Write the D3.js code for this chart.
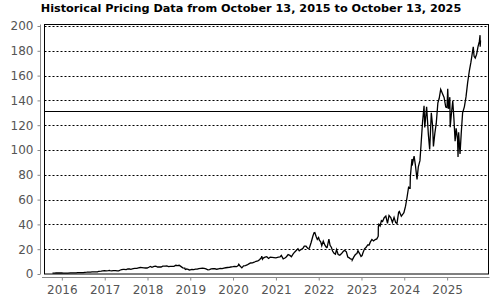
<!DOCTYPE html>
<html>
<head>
<meta charset="utf-8">
<script src="https://cdn.jsdelivr.net/npm/d3@7"></script>
<style>
  body { margin: 0; background: #fff; }
  svg { display: block; }
</style>
</head>
<body>
<svg id="chart"></svg>
<script>
// title and axis ticks
const title = "Historical Pricing Data from October 13, 2015 to October 13, 2025";
const yTicks = [0, 20, 40, 60, 80, 100, 120, 140, 160, 180, 200];
const refLevel = 131.3;

// closing prices (split adjusted)
const dates = [
  "2015-10-13","2015-10-30","2015-11-13","2015-12-01","2015-12-15","2015-12-31",
  "2016-01-15","2016-02-01","2016-02-12","2016-02-22","2016-03-15","2016-04-01","2016-04-15","2016-05-02","2016-05-13","2016-06-01","2016-06-15","2016-07-01","2016-07-15","2016-08-01","2016-08-12","2016-09-01","2016-09-15","2016-10-03","2016-10-17","2016-11-01","2016-11-11","2016-12-01","2016-12-15","2016-12-30",
  "2017-01-13","2017-02-01","2017-02-10","2017-02-15","2017-03-01","2017-03-15","2017-04-03","2017-04-18","2017-05-01","2017-05-10","2017-05-25","2017-06-09","2017-06-15","2017-07-03","2017-07-17","2017-08-01","2017-08-11","2017-09-01","2017-09-15","2017-10-02","2017-10-16","2017-11-01","2017-11-15","2017-12-01","2017-12-15","2017-12-29",
  "2018-01-16","2018-01-26","2018-02-08","2018-02-26","2018-03-13","2018-03-28","2018-04-13","2018-04-27","2018-05-11","2018-05-31","2018-06-15","2018-06-29","2018-07-16","2018-07-31","2018-08-15","2018-08-31","2018-09-14","2018-09-28","2018-10-12","2018-10-29","2018-11-15","2018-11-16","2018-11-23","2018-11-30","2018-12-14","2018-12-24","2018-12-31",
  "2019-01-15","2019-01-31","2019-02-15","2019-03-01","2019-03-15","2019-04-01","2019-04-15","2019-04-30","2019-05-15","2019-05-31","2019-06-14","2019-06-28","2019-07-15","2019-07-31","2019-08-15","2019-08-30","2019-09-13","2019-09-30","2019-10-15","2019-10-31","2019-11-15","2019-11-29","2019-12-13","2019-12-31",
  "2020-01-15","2020-01-31","2020-02-14","2020-02-19","2020-02-28","2020-03-16","2020-03-31","2020-04-15","2020-04-30","2020-05-15","2020-05-29","2020-06-15","2020-06-30","2020-07-15","2020-07-31","2020-08-14","2020-08-31","2020-09-02","2020-09-08","2020-09-15","2020-09-30","2020-10-15","2020-10-30","2020-11-13","2020-11-30","2020-12-15","2020-12-31",
  "2021-01-08","2021-01-22","2021-02-05","2021-02-16","2021-03-04","2021-03-19","2021-04-01","2021-04-15","2021-04-30","2021-05-13","2021-05-28","2021-06-11","2021-06-25","2021-07-08","2021-07-19","2021-07-30","2021-08-13","2021-08-20","2021-08-31","2021-09-15","2021-09-30","2021-10-13","2021-10-29","2021-11-12","2021-11-22","2021-11-29","2021-12-10","2021-12-20","2021-12-31",
  "2022-01-07","2022-01-18","2022-01-27","2022-02-09","2022-02-23","2022-03-08","2022-03-14","2022-03-29","2022-04-08","2022-04-20","2022-04-29","2022-05-12","2022-05-24","2022-06-02","2022-06-16","2022-06-30","2022-07-15","2022-08-01","2022-08-12","2022-08-25","2022-09-06","2022-09-16","2022-09-30","2022-10-13","2022-10-14","2022-10-28","2022-11-10","2022-11-23","2022-12-02","2022-12-16","2022-12-28",
  "2023-01-06","2023-01-13","2023-01-27","2023-02-10","2023-02-23","2023-03-07","2023-03-17","2023-03-31","2023-04-14","2023-04-28","2023-05-12","2023-05-24","2023-05-25","2023-05-30","2023-06-09","2023-06-20","2023-06-30","2023-07-14","2023-07-28","2023-08-11","2023-08-24","2023-09-08","2023-09-22","2023-10-06","2023-10-20","2023-10-31","2023-11-14","2023-11-20","2023-12-07","2023-12-20","2023-12-29",
  "2024-01-12","2024-01-24","2024-02-07","2024-02-20","2024-02-22","2024-03-07","2024-03-08","2024-03-25","2024-04-05","2024-04-19","2024-04-30","2024-05-14","2024-05-23","2024-06-05","2024-06-18","2024-06-24","2024-07-10","2024-07-25","2024-08-05","2024-08-19","2024-08-30","2024-09-06","2024-09-18","2024-09-30","2024-10-14","2024-10-25","2024-11-07","2024-11-20","2024-12-06","2024-12-20","2024-12-31",
  "2025-01-06","2025-01-13","2025-01-24","2025-01-27","2025-02-07","2025-02-18","2025-02-28","2025-03-10","2025-03-19","2025-03-31","2025-04-04","2025-04-09","2025-04-21","2025-05-02","2025-05-13","2025-05-28","2025-06-11","2025-06-25","2025-07-10","2025-07-23","2025-08-12","2025-08-19","2025-08-29","2025-09-10","2025-09-22","2025-10-03","2025-10-09","2025-10-10","2025-10-13"
];
const closes = [
  0.70,0.71,0.80,0.83,0.81,0.82,
  0.72,0.74,0.67,0.78,0.86,0.89,0.90,0.89,1.10,1.16,1.15,1.18,1.30,1.43,1.55,1.53,1.65,1.72,1.68,1.70,2.20,2.33,2.50,2.67,
  2.60,2.73,2.90,2.73,2.53,2.68,2.70,2.50,2.60,3.03,3.53,3.72,3.80,3.58,4.13,4.05,3.73,4.28,4.55,4.53,4.95,5.25,5.18,4.88,4.85,4.84,
  5.63,6.15,5.45,6.08,6.23,5.63,5.65,5.63,6.38,6.30,6.50,5.93,6.20,6.13,6.18,7.03,6.75,7.03,6.13,4.98,4.75,4.10,3.63,4.08,3.70,3.23,3.34,
  3.65,3.60,3.95,3.95,4.40,4.58,4.68,4.53,4.05,3.38,3.60,4.10,4.33,4.23,3.83,4.18,4.48,4.35,4.80,5.03,5.25,5.40,5.65,5.88,
  6.15,5.90,6.75,7.85,6.68,4.93,6.60,6.80,7.30,8.13,8.88,8.93,9.50,10.25,10.62,11.55,13.38,14.50,11.90,12.85,13.53,13.95,12.53,13.53,13.40,13.28,13.05,
  13.3,13.6,13.8,15.0,12.2,12.9,13.9,15.6,15.0,13.9,16.2,17.8,19.1,20.3,18.7,19.5,20.3,20.8,22.4,22.4,20.7,20.8,25.6,30.4,33.2,33.4,30.2,27.9,29.4,
  27.2,25.9,22.8,26.5,23.2,21.4,21.5,28.2,23.1,21.4,18.5,16.8,16.0,19.7,15.7,15.2,16.5,18.5,19.0,17.9,13.7,13.2,12.1,11.9,11.2,13.8,15.7,16.5,18.7,16.5,14.1,
  14.9,16.9,20.3,21.5,23.4,23.4,25.7,27.8,26.7,27.8,28.3,30.5,38.0,40.1,38.8,43.0,42.3,45.4,46.7,40.9,47.2,45.5,41.6,45.7,41.4,40.8,49.7,50.4,46.6,48.2,49.5,
  54.7,61.3,70.0,69.4,78.5,92.7,87.5,95.0,88.0,76.2,86.4,91.4,103.8,122.4,135.6,118.1,134.9,112.3,100.5,130.0,119.4,102.8,113.4,121.4,138.1,141.5,148.9,145.9,142.4,134.7,134.3,
  149.4,133.2,142.6,118.4,129.8,139.4,124.9,107.0,117.5,108.4,94.3,114.3,96.9,114.5,129.9,134.8,142.8,154.3,164.1,170.8,183.2,175.6,174.2,177.3,183.6,187.6,192.6,183.2,188.3
];

const width = 500;
const height = 300;
const margin = {top: 24.5, right: 11.5, bottom: 26, left: 44.5};

const parse = d3.timeParse("%Y-%m-%d");
const data = dates.map((d, i) => ({date: parse(d), value: closes[i]}));

const svg = d3.select("#chart")
  .attr("width", width)
  .attr("height", height);

const x = d3.scaleTime()
  .domain([parse("2015-08-06"), parse("2025-12-20")])
  .range([margin.left, width - margin.right]);

const y = d3.scaleLinear()
  .domain([0, 200])
  .range([height - margin.bottom, 26]);

// title
svg.append("text")
  .attr("x", 251)
  .attr("y", 12)
  .attr("text-anchor", "middle")
  .attr("font-family", "DejaVu Sans, Verdana, sans-serif")
  .attr("font-weight", "bold")
  .attr("font-size", 11.25)
  .attr("fill", "#000")
  .text(title);

// dotted grid
svg.append("g")
  .selectAll("line")
  .data(yTicks.filter(d => d > 0))
  .join("line")
    .attr("x1", margin.left)
    .attr("x2", width - margin.right)
    .attr("y1", d => Math.round(y(d)) + 0.5)
    .attr("y2", d => Math.round(y(d)) + 0.5)
    .attr("stroke", "#000")
    .attr("stroke-dasharray", "2,2");

// reference level
svg.append("line")
  .attr("x1", margin.left)
  .attr("x2", width - margin.right)
  .attr("y1", Math.round(y(refLevel)) + 0.5)
  .attr("y2", Math.round(y(refLevel)) + 0.5)
  .attr("stroke", "#000");

// price line
const line = d3.line()
  .x(d => x(d.date))
  .y(d => y(d.value));

svg.append("path")
  .datum(data)
  .attr("fill", "none")
  .attr("stroke", "#000")
  .attr("stroke-width", 1.3)
  .attr("stroke-linejoin", "miter")
  .attr("d", line);

// frame
svg.append("rect")
  .attr("x", margin.left)
  .attr("y", margin.top)
  .attr("width", width - margin.right - margin.left)
  .attr("height", height - margin.bottom - margin.top)
  .attr("fill", "none")
  .attr("stroke", "#000");

// y axis
svg.append("g")
  .attr("transform", "translate(40.5,0)")
  .call(d3.axisLeft(y).tickValues(yTicks).tickSize(3).tickPadding(4))
  .call(g => g.select(".domain").attr("stroke", "#888").attr("d", `M0,${margin.top}V${height - margin.bottom}`))
  .call(g => g.selectAll(".tick line").attr("stroke", "#888"))
  .call(g => g.selectAll(".tick text")
    .attr("fill", "#555")
    .attr("font-family", "DejaVu Sans, Verdana, sans-serif")
    .attr("font-size", 12));

// x axis
svg.append("g")
  .attr("transform", `translate(0,277.5)`)
  .call(d3.axisBottom(x).ticks(d3.timeYear.every(1)).tickFormat(d3.timeFormat("%Y")).tickSize(3).tickPadding(5))
  .call(g => g.select(".domain").attr("stroke", "#888").attr("d", `M42,0H${width - margin.right + 1}`))
  .call(g => g.selectAll(".tick line").attr("stroke", "#888"))
  .call(g => g.selectAll(".tick text")
    .attr("fill", "#555")
    .attr("font-family", "DejaVu Sans, Verdana, sans-serif")
    .attr("font-size", 12));
</script>
</body>
</html>
